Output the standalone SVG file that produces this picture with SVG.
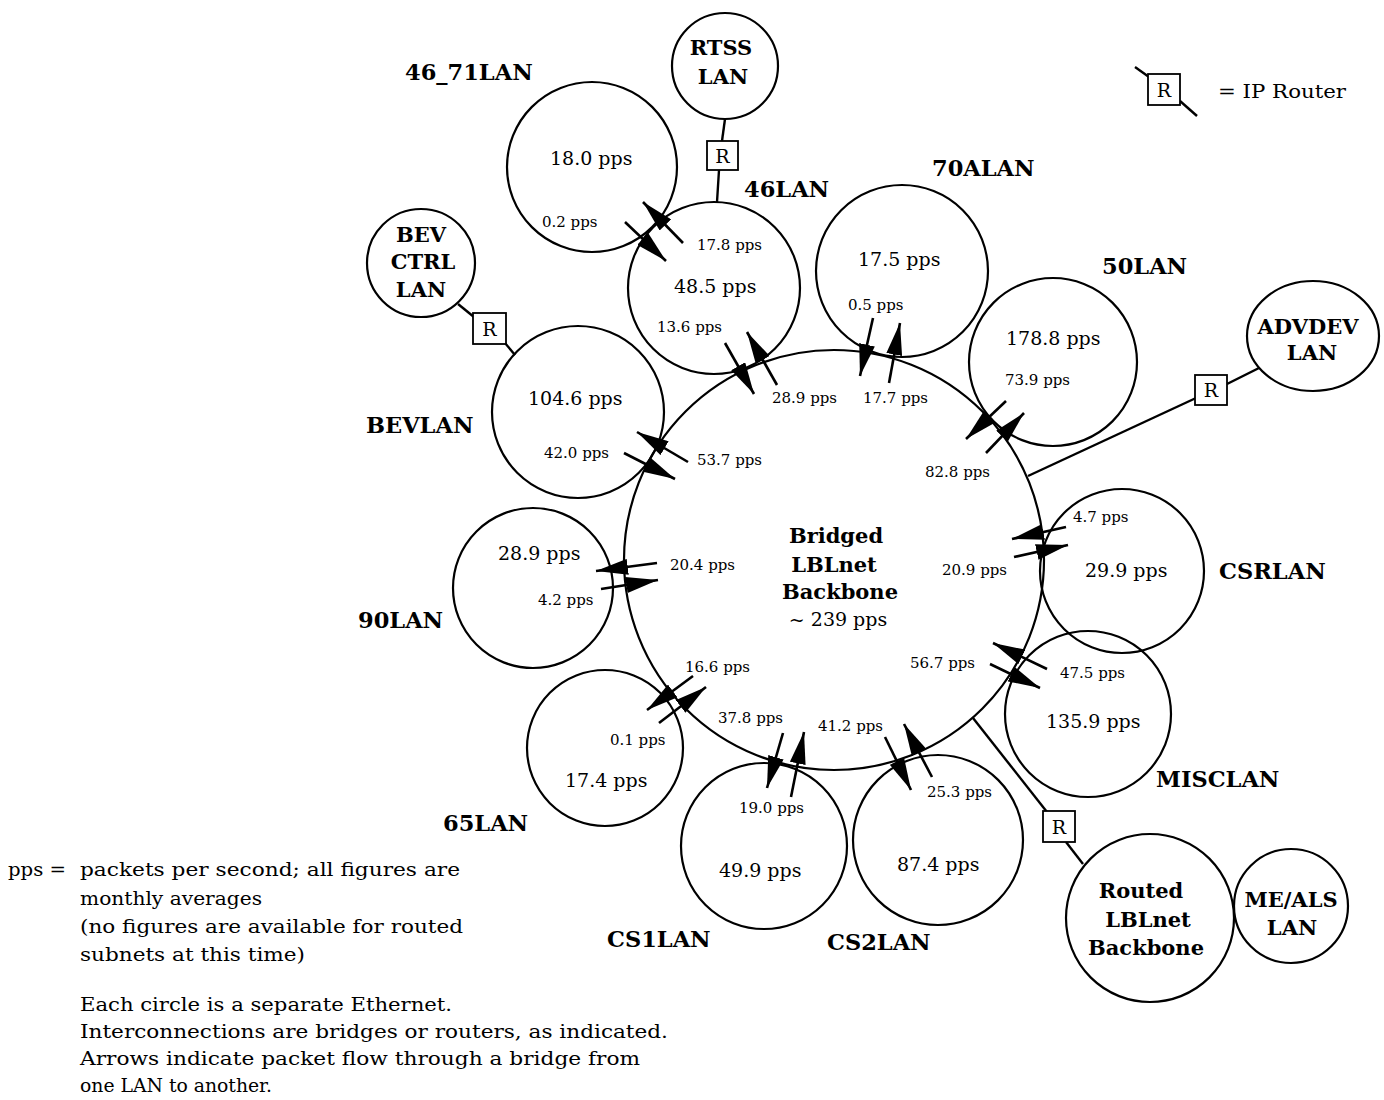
<svg xmlns="http://www.w3.org/2000/svg" width="1384" height="1100" viewBox="0 0 1384 1100">
  <style>
    .lan { fill: none; stroke: #000; stroke-width: 2.2; }
    .link { fill: none; stroke: #000; stroke-width: 2.4; }
    .flow { fill: none; stroke: #000; stroke-width: 2.6; marker-end: url(#head); }
    .rbox { fill: #fff; stroke: #000; stroke-width: 1.8; }
    .rtxt { font-family: "DejaVu Serif", "Liberation Serif", serif; font-size: 19px; text-anchor: middle; }
    .name { font-family: "DejaVu Serif", "Liberation Serif", serif; font-size: 22.5px; font-weight: bold; }
    .inner { font-family: "DejaVu Serif", "Liberation Serif", serif; font-size: 21px; font-weight: bold; text-anchor: middle; }
    .rate { font-family: "DejaVu Serif", "Liberation Serif", serif; font-size: 19px; }
    .small { font-family: "DejaVu Serif", "Liberation Serif", serif; font-size: 15px; }
    .note { font-family: "DejaVu Serif", "Liberation Serif", serif; font-size: 18.5px; }
  </style>
  <defs>
    <marker id="head" viewBox="0 0 32 16" refX="32" refY="8" markerWidth="32" markerHeight="16" orient="auto" markerUnits="userSpaceOnUse">
      <path d="M0,0 L32,8 L0,16 Z" fill="#000"/>
    </marker>
  </defs>
  <rect width="1384" height="1100" fill="#fff"/>

  <!-- router links and interconnections -->
  <g id="connectors">
    <line class="link" x1="725" y1="119" x2="722" y2="141"/>
    <line class="link" x1="719" y1="170" x2="717" y2="202"/>
    <line class="link" x1="458" y1="304" x2="474" y2="317"/>
    <line class="link" x1="505" y1="343" x2="515" y2="355"/>
    <line class="link" x1="1028" y1="476" x2="1196" y2="398"/>
    <line class="link" x1="1227" y1="384" x2="1259" y2="368"/>
    <line class="link" x1="973" y1="718" x2="1047" y2="812"/>
    <line class="link" x1="1066" y1="842" x2="1083" y2="864"/>

    <!-- bridge flows: 46_71LAN / 46LAN -->
    <line class="flow" x1="683" y1="243" x2="643" y2="202"/>
    <line class="flow" x1="625" y1="222" x2="666" y2="261"/>
    <!-- 46LAN / backbone -->
    <line class="flow" x1="725" y1="343" x2="754" y2="394"/>
    <line class="flow" x1="777" y1="385" x2="747" y2="332"/>
    <!-- 70ALAN / backbone -->
    <line class="flow" x1="873" y1="318" x2="860" y2="376"/>
    <line class="flow" x1="889" y1="383" x2="900" y2="323"/>
    <!-- 50LAN / backbone -->
    <line class="flow" x1="1006" y1="401" x2="966" y2="439"/>
    <line class="flow" x1="986" y1="453" x2="1024" y2="413"/>
    <!-- BEVLAN / backbone -->
    <line class="flow" x1="688" y1="462" x2="637" y2="432"/>
    <line class="flow" x1="624" y1="453" x2="675" y2="479"/>
    <!-- 90LAN / backbone -->
    <line class="flow" x1="657" y1="563" x2="596" y2="571"/>
    <line class="flow" x1="601" y1="589" x2="658" y2="580"/>
    <!-- CSRLAN / backbone -->
    <line class="flow" x1="1066" y1="527" x2="1012" y2="539"/>
    <line class="flow" x1="1014" y1="557" x2="1068" y2="545"/>
    <!-- MISCLAN / backbone -->
    <line class="flow" x1="1047" y1="669" x2="993" y2="643"/>
    <line class="flow" x1="990" y1="664" x2="1040" y2="688"/>
    <!-- 65LAN / backbone -->
    <line class="flow" x1="693" y1="676" x2="647" y2="710"/>
    <line class="flow" x1="659" y1="723" x2="706" y2="687"/>
    <!-- CS1LAN / backbone -->
    <line class="flow" x1="783" y1="733" x2="767" y2="788"/>
    <line class="flow" x1="791" y1="797" x2="804" y2="732"/>
    <!-- CS2LAN / backbone -->
    <line class="flow" x1="885" y1="737" x2="911" y2="790"/>
    <line class="flow" x1="932" y1="777" x2="904" y2="724"/>
  </g>

  <g id="bridged-backbone">
    <circle class="lan" cx="834" cy="560" r="210"/>
    <text class="inner" x="836" y="543">Bridged</text>
    <text class="inner" x="834" y="572">LBLnet</text>
    <text class="inner" x="840" y="599">Backbone</text>
    <text class="rate" x="838" y="626" text-anchor="middle">~ 239 pps</text>
  </g>

  <g id="lan-46-71">
    <circle class="lan" cx="592" cy="167" r="85"/>
    <text class="rate" x="550" y="165">18.0 pps</text>
    <text class="name" x="405" y="80">46_71LAN</text>
  </g>

  <g id="lan-rtss">
    <circle class="lan" cx="725" cy="66" r="53"/>
    <text class="inner" x="721" y="55">RTSS</text>
    <text class="inner" x="723" y="84">LAN</text>
  </g>
  <g id="router-rtss">
    <rect class="rbox" x="707" y="141" width="31" height="29"/>
    <text class="rtxt" x="722.5" y="163">R</text>
  </g>

  <g id="lan-46">
    <circle class="lan" cx="714" cy="288" r="86"/>
    <text class="rate" x="674" y="293">48.5 pps</text>
    <text class="name" x="744" y="197">46LAN</text>
  </g>

  <g id="lan-70a">
    <circle class="lan" cx="902" cy="271" r="86"/>
    <text class="rate" x="858" y="266">17.5 pps</text>
    <text class="name" x="932" y="176">70ALAN</text>
  </g>

  <g id="lan-50">
    <circle class="lan" cx="1053" cy="362" r="84"/>
    <text class="rate" x="1006" y="345">178.8 pps</text>
    <text class="name" x="1102" y="274">50LAN</text>
  </g>

  <g id="lan-advdev">
    <ellipse class="lan" cx="1313" cy="336" rx="66" ry="55"/>
    <text class="inner" x="1308" y="334">ADVDEV</text>
    <text class="inner" x="1312" y="360">LAN</text>
  </g>
  <g id="router-advdev">
    <rect class="rbox" x="1195" y="375" width="32" height="30"/>
    <text class="rtxt" x="1211" y="397">R</text>
  </g>

  <g id="lan-bev-ctrl">
    <circle class="lan" cx="421" cy="263" r="54"/>
    <text class="inner" x="421" y="242">BEV</text>
    <text class="inner" x="423" y="269">CTRL</text>
    <text class="inner" x="421" y="297">LAN</text>
  </g>
  <g id="router-bev">
    <rect class="rbox" x="473" y="313" width="33" height="31"/>
    <text class="rtxt" x="489.5" y="336">R</text>
  </g>

  <g id="lan-bev">
    <circle class="lan" cx="578" cy="412" r="86"/>
    <text class="rate" x="528" y="405">104.6 pps</text>
    <text class="name" x="366" y="433">BEVLAN</text>
  </g>

  <g id="lan-90">
    <circle class="lan" cx="533" cy="588" r="80"/>
    <text class="rate" x="498" y="560">28.9 pps</text>
    <text class="name" x="358" y="628">90LAN</text>
  </g>

  <g id="lan-65">
    <circle class="lan" cx="605" cy="748" r="78"/>
    <text class="rate" x="565" y="787">17.4 pps</text>
    <text class="name" x="443" y="831">65LAN</text>
  </g>

  <g id="lan-cs1">
    <circle class="lan" cx="764" cy="846" r="83"/>
    <text class="rate" x="719" y="877">49.9 pps</text>
    <text class="name" x="607" y="947">CS1LAN</text>
  </g>

  <g id="lan-cs2">
    <circle class="lan" cx="938" cy="840" r="85"/>
    <text class="rate" x="897" y="871">87.4 pps</text>
    <text class="name" x="827" y="950">CS2LAN</text>
  </g>

  <g id="lan-csr">
    <circle class="lan" cx="1122" cy="571" r="82"/>
    <text class="rate" x="1085" y="577">29.9 pps</text>
    <text class="name" x="1219" y="579">CSRLAN</text>
  </g>

  <g id="lan-misc">
    <circle class="lan" cx="1088" cy="714" r="83"/>
    <text class="rate" x="1046" y="728">135.9 pps</text>
    <text class="name" x="1156" y="787">MISCLAN</text>
  </g>

  <g id="router-routed">
    <rect class="rbox" x="1043" y="811" width="32" height="31"/>
    <text class="rtxt" x="1059" y="834">R</text>
  </g>

  <g id="routed-backbone">
    <circle class="lan" cx="1150" cy="918" r="84"/>
    <text class="inner" x="1141" y="898">Routed</text>
    <text class="inner" x="1148" y="927">LBLnet</text>
    <text class="inner" x="1146" y="955">Backbone</text>
  </g>

  <g id="lan-me-als">
    <circle class="lan" cx="1291" cy="906" r="57"/>
    <text class="inner" x="1291" y="907">ME/ALS</text>
    <text class="inner" x="1292" y="935">LAN</text>
  </g>

  <!-- per-direction bridge rates -->
  <g id="flow-rates" class="small">
    <text x="542" y="227">0.2 pps</text>
    <text x="697" y="250">17.8 pps</text>
    <text x="657" y="332">13.6 pps</text>
    <text x="772" y="403">28.9 pps</text>
    <text x="848" y="310">0.5 pps</text>
    <text x="863" y="403">17.7 pps</text>
    <text x="1005" y="385">73.9 pps</text>
    <text x="925" y="477">82.8 pps</text>
    <text x="544" y="458">42.0 pps</text>
    <text x="697" y="465">53.7 pps</text>
    <text x="670" y="570">20.4 pps</text>
    <text x="538" y="605">4.2 pps</text>
    <text x="1073" y="522">4.7 pps</text>
    <text x="942" y="575">20.9 pps</text>
    <text x="910" y="668">56.7 pps</text>
    <text x="1060" y="678">47.5 pps</text>
    <text x="685" y="672">16.6 pps</text>
    <text x="610" y="745">0.1 pps</text>
    <text x="718" y="723">37.8 pps</text>
    <text x="818" y="731">41.2 pps</text>
    <text x="739" y="813">19.0 pps</text>
    <text x="927" y="797">25.3 pps</text>
  </g>

  <!-- router symbol key -->
  <g id="legend-router">
    <line class="link" x1="1135" y1="67" x2="1149" y2="77"/>
    <line class="link" x1="1180" y1="101" x2="1197" y2="116"/>
    <rect class="rbox" x="1148" y="74" width="32" height="31"/>
    <text class="rtxt" x="1164" y="97">R</text>
    <text class="note" x="1218" y="98" font-size="19" textLength="128" lengthAdjust="spacingAndGlyphs">= IP Router</text>
  </g>

  <!-- explanatory notes -->
  <g id="notes" class="note">
    <text x="8" y="876" textLength="58" lengthAdjust="spacingAndGlyphs">pps =</text>
    <text x="80" y="876" textLength="380" lengthAdjust="spacingAndGlyphs">packets per second;  all figures are</text>
    <text x="80" y="905" textLength="182" lengthAdjust="spacingAndGlyphs">monthly averages</text>
    <text x="80" y="933" textLength="383" lengthAdjust="spacingAndGlyphs">(no figures are available for routed</text>
    <text x="80" y="961" textLength="225" lengthAdjust="spacingAndGlyphs">subnets at this time)</text>
    <text x="80" y="1011" textLength="372" lengthAdjust="spacingAndGlyphs">Each circle  is a separate Ethernet.</text>
    <text x="80" y="1038" textLength="588" lengthAdjust="spacingAndGlyphs">Interconnections are bridges or routers, as indicated.</text>
    <text x="80" y="1065" textLength="560" lengthAdjust="spacingAndGlyphs">Arrows indicate packet flow through a bridge from</text>
    <text x="80" y="1092" textLength="192" lengthAdjust="spacingAndGlyphs">one LAN to another.</text>
  </g>
</svg>
